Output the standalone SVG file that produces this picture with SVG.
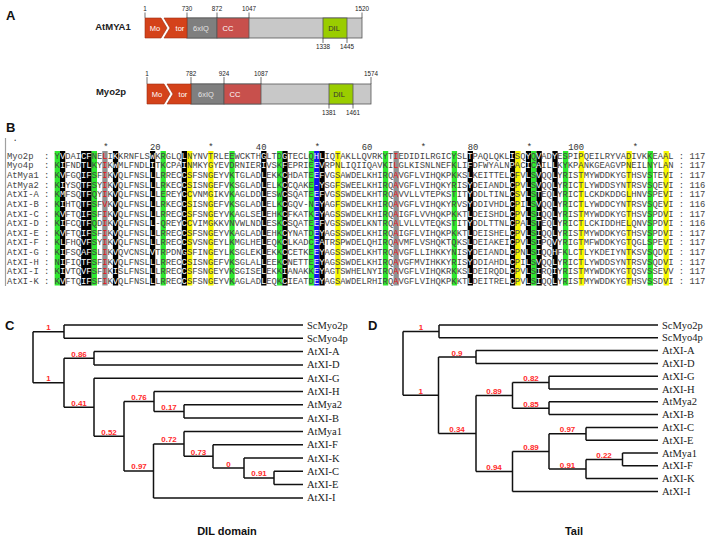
<svg xmlns="http://www.w3.org/2000/svg" width="709" height="543" viewBox="0 0 709 543">
<style>
.pl{font-family:"Liberation Sans",Arial,sans-serif;font-size:13px;font-weight:bold;fill:#111}
.pn{font-family:"Liberation Sans Narrow","Liberation Sans",Arial,sans-serif;font-size:9.5px;font-weight:bold;fill:#222;text-anchor:middle}
.num{font-family:"Liberation Sans Narrow","Liberation Sans",Arial,sans-serif;font-size:6.3px;fill:#222;text-anchor:middle}
.dom{font-family:"Liberation Sans",Arial,sans-serif;font-size:7.5px;text-anchor:middle}
.tk{stroke:#333;stroke-width:0.7}
.bx{stroke:#555;stroke-width:0.8}
.seq{font-family:"Liberation Mono","Courier New",monospace;font-size:8.825px;fill:#444;white-space:pre}
.w{fill:#fff}
.r{fill:#e8141c}
.hd{font-family:"Liberation Mono","Courier New",monospace;font-size:8.825px;fill:#333}
.gc{fill:#2ee82e}
.bc{fill:#000}
.yc{fill:#f7f700}
.ac{fill:#909090}
.uc{fill:#1414f0}
.br{fill:none;stroke:#111;stroke-width:1.5}
.bs{font-family:"Liberation Sans",Arial,sans-serif;font-size:8px;font-weight:bold;fill:#ff2a2a;text-anchor:middle}
.lf{font-family:"Liberation Serif","Times New Roman",serif;font-size:10.5px;fill:#222}
.ti{font-family:"Liberation Sans",Arial,sans-serif;font-size:11px;font-weight:bold;fill:#111;text-anchor:middle}
</style>
<rect x="0" y="0" width="709" height="543" fill="#fff"/>

<g id="panel-labels">
<text class="pl" x="6" y="20">A</text>
<text class="pl" x="6" y="132">B</text>
<text class="pl" x="5" y="330">C</text>
<text class="pl" x="368" y="330">D</text>
</g>

<g id="panel-a">
<g id="atmya1">
<text class="pn" x="113" y="29.5">AtMYA1</text>
<rect class="bx" x="187" y="18" width="175" height="20" fill="#c8c8c8"/>
<rect class="bx" x="187" y="18" width="30" height="20" fill="#7f7f7f"/>
<rect class="bx" x="217" y="18" width="32" height="20" fill="#c8504c"/>
<rect class="bx" x="323" y="18" width="24" height="20" fill="#9acd00"/>
<polygon points="145,18 161,18 167,28 161,38 145,38" fill="#d4421a" stroke="#9a2e10" stroke-width="0.6"/>
<polygon points="164,18 187,18 187,38 164,38 170,28" fill="#d4421a" stroke="#9a2e10" stroke-width="0.6"/>
<text class="dom" x="155" y="31" fill="#fff">Mo</text>
<text class="dom" x="180" y="31" fill="#fff">tor</text>
<text class="dom" x="201" y="31" fill="#e4e4e4">6xIQ</text>
<text class="dom" x="228" y="31" fill="#fff">CC</text>
<text class="dom" x="334" y="31" fill="#333">DIL</text>
<path class="tk" d="M145,12.5V18M187,12.5V18M217,12.5V18M249,12.5V18M362,12.5V18M323,38V43M347,38V43"/>
<text class="num" x="145" y="11">1</text>
<text class="num" x="187" y="11">730</text>
<text class="num" x="217" y="11">872</text>
<text class="num" x="249" y="11">1047</text>
<text class="num" x="362" y="11">1520</text>
<text class="num" x="323" y="49">1338</text>
<text class="num" x="347" y="49">1445</text>
</g>
<g id="myo2p">
<text class="pn" x="111" y="94.5">Myo2p</text>
<rect class="bx" x="191" y="84" width="180" height="20" fill="#c8c8c8"/>
<rect class="bx" x="191" y="84" width="33" height="20" fill="#7f7f7f"/>
<rect class="bx" x="224" y="84" width="37" height="20" fill="#c8504c"/>
<rect class="bx" x="329" y="84" width="24" height="20" fill="#9acd00"/>
<polygon points="147,84 164,84 170,94 164,104 147,104" fill="#d4421a" stroke="#9a2e10" stroke-width="0.6"/>
<polygon points="167,84 191,84 191,104 167,104 173,94" fill="#d4421a" stroke="#9a2e10" stroke-width="0.6"/>
<text class="dom" x="157" y="97" fill="#fff">Mo</text>
<text class="dom" x="183" y="97" fill="#fff">tor</text>
<text class="dom" x="206" y="97" fill="#e4e4e4">6xIQ</text>
<text class="dom" x="235" y="97" fill="#fff">CC</text>
<text class="dom" x="339" y="97" fill="#333">DIL</text>
<path class="tk" d="M147,77V84M191,77V84M224,77V84M261,77V84M371,77V84M329,104V108.5M353,104V108.5"/>
<text class="num" x="147" y="75.5">1</text>
<text class="num" x="191" y="75.5">782</text>
<text class="num" x="224" y="75.5">924</text>
<text class="num" x="261" y="75.5">1087</text>
<text class="num" x="371" y="75.5">1574</text>
<text class="num" x="329" y="114.5">1381</text>
<text class="num" x="353" y="114.5">1461</text>
</g>
</g>

<g id="panel-b">
<line x1="5.5" y1="138" x2="5.5" y2="286" stroke="#a0a0a0" stroke-width="1.2"/>
<text class="hd" x="12.5" y="141">.</text>
<g id="ruler">
<text class="hd" x="106" y="149.5" text-anchor="middle">*</text>
<text class="hd" x="160.55" y="149.5" text-anchor="end">20</text>
<text class="hd" x="211" y="149.5" text-anchor="middle">*</text>
<text class="hd" x="266.45" y="149.5" text-anchor="end">40</text>
<text class="hd" x="317.5" y="149.5" text-anchor="middle">*</text>
<text class="hd" x="372.35" y="149.5" text-anchor="end">60</text>
<text class="hd" x="423.5" y="149.5" text-anchor="middle">*</text>
<text class="hd" x="478.25" y="149.5" text-anchor="end">80</text>
<text class="hd" x="529.5" y="149.5" text-anchor="middle">*</text>
<text class="hd" x="584.15" y="149.5" text-anchor="end">100</text>
<text class="hd" x="635.5" y="149.5" text-anchor="middle">*</text>
</g>
<g id="shading">
<rect class="gc" x="54.65" y="151" width="5.3" height="134.5"/>
<rect class="bc" x="59.945" y="151" width="5.3" height="134.5"/>
<rect class="bc" x="81.125" y="151" width="10.59" height="134.5"/>
<rect class="gc" x="91.715" y="151" width="5.3" height="134.5"/>
<rect class="ac" x="102.305" y="151" width="5.3" height="134.5"/>
<rect class="bc" x="112.895" y="151" width="5.3" height="134.5"/>
<rect class="bc" x="149.96" y="151" width="5.3" height="134.5"/>
<rect class="gc" x="160.55" y="151" width="5.3" height="134.5"/>
<rect class="bc" x="181.73" y="151" width="5.3" height="134.5"/>
<rect class="yc" x="187.025" y="151" width="5.3" height="134.5"/>
<rect class="yc" x="208.205" y="151" width="5.3" height="134.5"/>
<rect class="gc" x="229.385" y="151" width="5.3" height="134.5"/>
<rect class="bc" x="261.155" y="151" width="5.3" height="134.5"/>
<rect class="gc" x="277.04" y="151" width="5.3" height="134.5"/>
<rect class="bc" x="282.335" y="151" width="5.3" height="134.5"/>
<rect class="gc" x="308.81" y="151" width="5.3" height="134.5"/>
<rect class="uc" x="314.105" y="151" width="5.3" height="134.5"/>
<rect class="bc" x="319.4" y="151" width="5.3" height="134.5"/>
<rect class="yc" x="335.285" y="151" width="5.3" height="134.5"/>
<rect class="gc" x="382.94" y="151" width="5.3" height="134.5"/>
<rect class="ac" x="393.53" y="151" width="5.3" height="134.5"/>
<rect class="gc" x="451.775" y="151" width="5.3" height="134.5"/>
<rect class="bc" x="467.66" y="151" width="5.3" height="134.5"/>
<rect class="bc" x="510.02" y="151" width="5.3" height="134.5"/>
<rect class="yc" x="515.315" y="151" width="5.3" height="134.5"/>
<rect class="bc" x="525.905" y="151" width="5.3" height="134.5"/>
<rect class="gc" x="531.2" y="151" width="5.3" height="134.5"/>
<rect class="bc" x="536.495" y="151" width="5.3" height="134.5"/>
<rect class="bc" x="552.38" y="151" width="5.3" height="134.5"/>
<rect class="gc" x="562.97" y="151" width="5.3" height="134.5"/>
<rect class="yc" x="578.855" y="151" width="5.3" height="134.5"/>
<rect class="yc" x="626.51" y="151" width="5.3" height="134.5"/>
<rect class="gc" x="647.69" y="151" width="5.3" height="134.5"/>
<rect class="yc" x="663.575" y="151" width="5.3" height="134.5"/>
</g>
<g id="sequences">
<text class="seq" xml:space="preserve" x="7" y="158.8">Myo2p  : Y<tspan class="w">V</tspan>DAI<tspan class="w">CF</tspan>NE<tspan class="r">L</tspan>I<tspan class="w">K</tspan>KRNFLS<tspan class="w">W</tspan>KRGLQ<tspan class="w">L</tspan>NYNVTRLEEWCKTH<tspan class="w">G</tspan>LTD<tspan class="w">G</tspan>TECLQ<tspan class="w">HL</tspan>IQTAKLLQVRKYT<tspan class="r">I</tspan>EDIDILRGICYSL<tspan class="w">T</tspan>PAQLQKL<tspan class="w">I</tspan>SQ<tspan class="w">Y</tspan>Q<tspan class="w">V</tspan>AD<tspan class="w">Y</tspan>ESPIPQEILRYVADIVKKEAAL : 117</text>
<text class="seq" xml:space="preserve" x="7" y="168.42">Myo4p  : K<tspan class="w">I</tspan>FND<tspan class="w">TL</tspan>KY<tspan class="r">I</tspan>K<tspan class="w">W</tspan>MLFNDL<tspan class="w">I</tspan>TKCPA<tspan class="w">I</tspan>NMKYGYEVDRNIER<tspan class="w">I</tspan>VSK<tspan class="w">F</tspan>EPRIE<tspan class="w">EV</tspan>RPNLIQIIQAVKI<tspan class="r">L</tspan>GLKISNLNEFKLI<tspan class="w">F</tspan>DFWYALN<tspan class="w">P</tspan>AC<tspan class="w">I</tspan>C<tspan class="w">A</tspan>IL<tspan class="w">L</tspan>KYKPANKGEAGVPNEILNYLAN : 117</text>
<text class="seq" xml:space="preserve" x="7" y="178.04">AtMya1 : K<tspan class="w">V</tspan>FGQ<tspan class="w">IF</tspan>SF<tspan class="r">I</tspan>K<tspan class="w">V</tspan>QLFNSL<tspan class="w">L</tspan>LRREC<tspan class="w">C</tspan>SFSNGEYVKTGLAD<tspan class="w">L</tspan>EKK<tspan class="w">C</tspan>HDATE<tspan class="w">EF</tspan>VGSAWDELKHIRQ<tspan class="r">A</tspan>VGFLVIHQKPKKS<tspan class="w">L</tspan>KEITTEL<tspan class="w">C</tspan>FV<tspan class="w">L</tspan>S<tspan class="w">V</tspan>QQ<tspan class="w">L</tspan>YRISTMYWDDKYGTHSVSTEVI : 117</text>
<text class="seq" xml:space="preserve" x="7" y="187.66">AtMya2 : K<tspan class="w">I</tspan>YSQ<tspan class="w">TF</tspan>SY<tspan class="r">I</tspan>K<tspan class="w">V</tspan>QLFNSL<tspan class="w">L</tspan>LRKEC<tspan class="w">C</tspan>SISNGEFVKSGLAD<tspan class="w">L</tspan>ELK<tspan class="w">C</tspan>CQAKE<tspan class="w">-Y</tspan>SGFSWEELKHIRQ<tspan class="r">A</tspan>VGFLVIHQKYRIS<tspan class="w">Y</tspan>DEIANDL<tspan class="w">C</tspan>PV<tspan class="w">L</tspan>S<tspan class="w">V</tspan>QQ<tspan class="w">L</tspan>YRICTLYWDDSYNTRSVSQEVI : 116</text>
<text class="seq" xml:space="preserve" x="7" y="197.28">AtXI-A : K<tspan class="w">M</tspan>FSQ<tspan class="w">TF</tspan>QY<tspan class="r">I</tspan>K<tspan class="w">V</tspan>QLFNSL<tspan class="w">L</tspan>LEREY<tspan class="w">C</tspan>CVNMGIKVKAGLDD<tspan class="w">L</tspan>ESW<tspan class="w">C</tspan>SQATE<tspan class="w">EF</tspan>VGSSWDELKHTRQ<tspan class="r">A</tspan>VVLLVTEPKSTIT<tspan class="w">Y</tspan>DDLTINL<tspan class="w">C</tspan>SV<tspan class="w">L</tspan>S<tspan class="w">T</tspan>EQ<tspan class="w">L</tspan>YRICTLCKDKDDGLHNVSPEVI : 117</text>
<text class="seq" xml:space="preserve" x="7" y="206.9">AtXI-B : K<tspan class="w">I</tspan>HTQ<tspan class="w">TF</tspan>SF<tspan class="r">V</tspan>K<tspan class="w">V</tspan>QLFNSL<tspan class="w">L</tspan>LRKEC<tspan class="w">C</tspan>SISNGEFVKSGLAD<tspan class="w">L</tspan>ELK<tspan class="w">C</tspan>GQV-N<tspan class="w">EY</tspan>AGFSWDELKHIRQ<tspan class="r">A</tspan>VGFLVIHQKYRVS<tspan class="w">Y</tspan>DDIVHDL<tspan class="w">C</tspan>PI<tspan class="w">L</tspan>S<tspan class="w">V</tspan>QQ<tspan class="w">L</tspan>YRICTLYWDDCYNTRSVSQEVI : 116</text>
<text class="seq" xml:space="preserve" x="7" y="216.52">AtXI-C : K<tspan class="w">V</tspan>FTQ<tspan class="w">IF</tspan>SF<tspan class="r">I</tspan>K<tspan class="w">V</tspan>QLFNSL<tspan class="w">L</tspan>LRREC<tspan class="w">C</tspan>SFSNGEYVKAGLSE<tspan class="w">L</tspan>EHK<tspan class="w">C</tspan>FKATK<tspan class="w">EY</tspan>AGSSWDELKHIRQ<tspan class="r">A</tspan>IGFLVVHQKPKKT<tspan class="w">L</tspan>DEISHDL<tspan class="w">C</tspan>PV<tspan class="w">L</tspan>S<tspan class="w">I</tspan>QQ<tspan class="w">L</tspan>YRISTMYWDDKYGTHSVSPDVI : 117</text>
<text class="seq" xml:space="preserve" x="7" y="226.14">AtXI-D : K<tspan class="w">I</tspan>FCQ<tspan class="w">TF</tspan>QD<tspan class="r">I</tspan>K<tspan class="w">V</tspan>QLFNSL<tspan class="w">L</tspan>-QREY<tspan class="w">C</tspan>CVIMGKKVNVWLND<tspan class="w">L</tspan>ESK<tspan class="w">C</tspan>SQATE<tspan class="w">EF</tspan>VGSSWDELKNTRQ<tspan class="r">A</tspan>LVLLVTEQKSTIT<tspan class="w">Y</tspan>DDLTTNL<tspan class="w">C</tspan>PA<tspan class="w">L</tspan>S<tspan class="w">T</tspan>EQ<tspan class="w">L</tspan>YRICTLCKIDDHELQNVSPDVI : 116</text>
<text class="seq" xml:space="preserve" x="7" y="235.76">AtXI-E : K<tspan class="w">V</tspan>FTQ<tspan class="w">IF</tspan>SF<tspan class="r">I</tspan>K<tspan class="w">V</tspan>QLFNSL<tspan class="w">L</tspan>LRREC<tspan class="w">C</tspan>SFSNGEYVKAGLAD<tspan class="w">L</tspan>EHK<tspan class="w">C</tspan>YNATD<tspan class="w">EY</tspan>AGSSWDELKHIRQ<tspan class="r">A</tspan>IGFLVIHQKPKKT<tspan class="w">L</tspan>DEISHEL<tspan class="w">C</tspan>PV<tspan class="w">L</tspan>S<tspan class="w">I</tspan>QQ<tspan class="w">L</tspan>YRISTMYWDDKYGTHSVSPDVI : 117</text>
<text class="seq" xml:space="preserve" x="7" y="245.38">AtXI-F : K<tspan class="w">L</tspan>FHQ<tspan class="w">VF</tspan>SY<tspan class="r">I</tspan>K<tspan class="w">V</tspan>QLFNSL<tspan class="w">L</tspan>LRREC<tspan class="w">C</tspan>SVSNGEYLKMGLHE<tspan class="w">L</tspan>EQK<tspan class="w">C</tspan>LKADC<tspan class="w">EA</tspan>TRSPWDELQHIRQ<tspan class="r">A</tspan>VMFLVSHQKTQKS<tspan class="w">L</tspan>DEIAKEI<tspan class="w">C</tspan>PV<tspan class="w">L</tspan>S<tspan class="w">I</tspan>PQ<tspan class="w">V</tspan>YRIGTMFWDDKYGTQGLSPEVI : 117</text>
<text class="seq" xml:space="preserve" x="7" y="255">AtXI-G : K<tspan class="w">I</tspan>FSQ<tspan class="w">AF</tspan>SL<tspan class="r">I</tspan>K<tspan class="w">V</tspan>QVCNSL<tspan class="w">V</tspan>TRPDN<tspan class="w">G</tspan>SFINGEYLKSGLEK<tspan class="w">L</tspan>EKK<tspan class="w">C</tspan>CETKE<tspan class="w">EY</tspan>AGSSWDELKHTRQ<tspan class="r">A</tspan>VGFLLIHKKYNIS<tspan class="w">Y</tspan>DEIANDL<tspan class="w">C</tspan>PN<tspan class="w">L</tspan>S<tspan class="w">I</tspan>QQ<tspan class="w">H</tspan>FKLCTLYKDEIYNTKSVSQDVI : 117</text>
<text class="seq" xml:space="preserve" x="7" y="264.62">AtXI-H : N<tspan class="w">I</tspan>FIQ<tspan class="w">TF</tspan>SF<tspan class="r">I</tspan>K<tspan class="w">V</tspan>QLFNSL<tspan class="w">L</tspan>LRREC<tspan class="w">C</tspan>SISNGEFVKSGLAL<tspan class="w">L</tspan>EEK<tspan class="w">C</tspan>NETTE<tspan class="w">EY</tspan>AGSSWDELKHIRQ<tspan class="r">A</tspan>VGFMVIHKKYRIS<tspan class="w">Y</tspan>DDIAHDL<tspan class="w">C</tspan>PI<tspan class="w">L</tspan>S<tspan class="w">V</tspan>QQ<tspan class="w">L</tspan>YRICTLYWDDSYNTRSVSQDVI : 117</text>
<text class="seq" xml:space="preserve" x="7" y="274.24">AtXI-I : K<tspan class="w">I</tspan>VTQ<tspan class="w">VF</tspan>SF<tspan class="r">I</tspan>K<tspan class="w">I</tspan>SLFNSL<tspan class="w">L</tspan>LRREC<tspan class="w">C</tspan>SFSNGEYVKSGISE<tspan class="w">L</tspan>EKK<tspan class="w">I</tspan>ANAKK<tspan class="w">EY</tspan>AGTSWHELNYIRQ<tspan class="r">A</tspan>VGFLVIHQKRKKS<tspan class="w">L</tspan>DEIRQDL<tspan class="w">C</tspan>PV<tspan class="w">L</tspan>S<tspan class="w">I</tspan>RQ<tspan class="w">I</tspan>YRISTMYWDDKYGTQSVSSEVV : 117</text>
<text class="seq" xml:space="preserve" x="7" y="283.86">AtXI-K : K<tspan class="w">V</tspan>FTQ<tspan class="w">IF</tspan>SF<tspan class="r">I</tspan>K<tspan class="w">V</tspan>QLFNSL<tspan class="w">L</tspan>LRREC<tspan class="w">C</tspan>SFSNGEYVKAGLAD<tspan class="w">L</tspan>EQK<tspan class="w">C</tspan>IEATD<tspan class="w">EY</tspan>AGSAWDELRHIRQ<tspan class="r">A</tspan>VGFLVIHQKPKKT<tspan class="w">L</tspan>DEITREL<tspan class="w">C</tspan>PV<tspan class="w">L</tspan>S<tspan class="w">I</tspan>QQ<tspan class="w">L</tspan>YRISTMYWDDKYGTHSVSSDVI : 117</text>
</g>
</g>

<g id="tree-c">
<g id="tree-c-connectors">
<path class="br" d="M33,331.65V382.7 M33,331.65H64 M64,325V338.3 M64,325H303 M64,338.3H303 M33,382.7H64 M64,358.25V407.2 M64,358.25H94 M94,351.6V364.9 M94,351.6H303 M94,364.9H303 M64,407.2H94 M94,378.2V436.2 M94,378.2H303 M94,436.2H124 M124,401.5V470.9 M124,401.5H154 M154,391.5V411.45 M154,391.5H303 M154,411.45H184 M184,404.8V418.1 M184,404.8H303 M184,418.1H303 M124,470.9H153.5 M153.5,443.9V497.9 M153.5,497.9H303 M153.5,443.9H184 M184,431.4V456.35 M184,431.4H303 M184,456.35H213 M213,444.7V468 M213,444.7H303 M213,468H244 M244,458V477.95 M244,458H303 M244,477.95H274 M274,471.3V484.6 M274,471.3H303 M274,484.6H303"/>
</g>
<g id="tree-c-support">
<text class="bs" x="48.5" y="330.2">1</text>
<text class="bs" x="48.5" y="381.2">1</text>
<text class="bs" x="79" y="356.7">0.86</text>
<text class="bs" x="79" y="405.7">0.41</text>
<text class="bs" x="109" y="434.7">0.52</text>
<text class="bs" x="139" y="400">0.76</text>
<text class="bs" x="169" y="410">0.17</text>
<text class="bs" x="139" y="469.4">0.97</text>
<text class="bs" x="169" y="442.4">0.72</text>
<text class="bs" x="198.5" y="454.8">0.73</text>
<text class="bs" x="228.5" y="466.5">0</text>
<text class="bs" x="259" y="476.4">0.91</text>
</g>
<g id="tree-c-leaves">
<text class="lf" x="307" y="328.5">ScMyo2p</text>
<text class="lf" x="307" y="341.8">ScMyo4p</text>
<text class="lf" x="307" y="355.1">AtXI-A</text>
<text class="lf" x="307" y="368.4">AtXI-D</text>
<text class="lf" x="307" y="381.7">AtXI-G</text>
<text class="lf" x="307" y="395">AtXI-H</text>
<text class="lf" x="307" y="408.3">AtMya2</text>
<text class="lf" x="307" y="421.6">AtXI-B</text>
<text class="lf" x="307" y="434.9">AtMya1</text>
<text class="lf" x="307" y="448.2">AtXI-F</text>
<text class="lf" x="307" y="461.5">AtXI-K</text>
<text class="lf" x="307" y="474.8">AtXI-C</text>
<text class="lf" x="307" y="488.1">AtXI-E</text>
<text class="lf" x="307" y="501.4">AtXI-I</text>
</g>
<text class="ti" x="227" y="535">DIL domain</text>
</g>

<g id="tree-d">
<g id="tree-d-connectors">
<path class="br" d="M403,331.4V395.2 M403,331.4H439 M439,325V337.8 M439,325H658 M439,337.8H658 M403,395.2H438.5 M438.5,357V433.4 M438.5,357H476 M476,350.6V363.4 M476,350.6H658 M476,363.4H658 M438.5,433.4H476 M476,395.4V471.4 M476,395.4H512.5 M512.5,382.6V408.2 M512.5,382.6H549 M549,376.2V389 M549,376.2H658 M549,389H658 M512.5,408.2H549 M549,401.8V414.6 M549,401.8H658 M549,414.6H658 M476,471.4H512.5 M512.5,451.4V491.4 M512.5,491.4H658 M512.5,451.4H549 M549,433.8V469 M549,433.8H586 M586,427.4V440.2 M586,427.4H658 M586,440.2H658 M549,469H586 M586,459.4V478.6 M586,478.6H658 M586,459.4H622.5 M622.5,453V465.8 M622.5,453H658 M622.5,465.8H658"/>
</g>
<g id="tree-d-support">
<text class="bs" x="421" y="329.9">1</text>
<text class="bs" x="420.7" y="393.7">1</text>
<text class="bs" x="457" y="355.5">0.9</text>
<text class="bs" x="457" y="431.9">0.34</text>
<text class="bs" x="494" y="393.9">0.89</text>
<text class="bs" x="531" y="381.1">0.82</text>
<text class="bs" x="531" y="406.7">0.85</text>
<text class="bs" x="494" y="469.9">0.94</text>
<text class="bs" x="531" y="449.9">0.89</text>
<text class="bs" x="567.5" y="432.3">0.97</text>
<text class="bs" x="567.5" y="467.5">0.91</text>
<text class="bs" x="604" y="457.9">0.22</text>
</g>
<g id="tree-d-leaves">
<text class="lf" x="662" y="328.5">ScMyo2p</text>
<text class="lf" x="662" y="341.3">ScMyo4p</text>
<text class="lf" x="662" y="354.1">AtXI-A</text>
<text class="lf" x="662" y="366.9">AtXI-D</text>
<text class="lf" x="662" y="379.7">AtXI-G</text>
<text class="lf" x="662" y="392.5">AtXI-H</text>
<text class="lf" x="662" y="405.3">AtMya2</text>
<text class="lf" x="662" y="418.1">AtXI-B</text>
<text class="lf" x="662" y="430.9">AtXI-C</text>
<text class="lf" x="662" y="443.7">AtXI-E</text>
<text class="lf" x="662" y="456.5">AtMya1</text>
<text class="lf" x="662" y="469.3">AtXI-F</text>
<text class="lf" x="662" y="482.1">AtXI-K</text>
<text class="lf" x="662" y="494.9">AtXI-I</text>
</g>
<text class="ti" x="574" y="535">Tail</text>
</g>
</svg>
